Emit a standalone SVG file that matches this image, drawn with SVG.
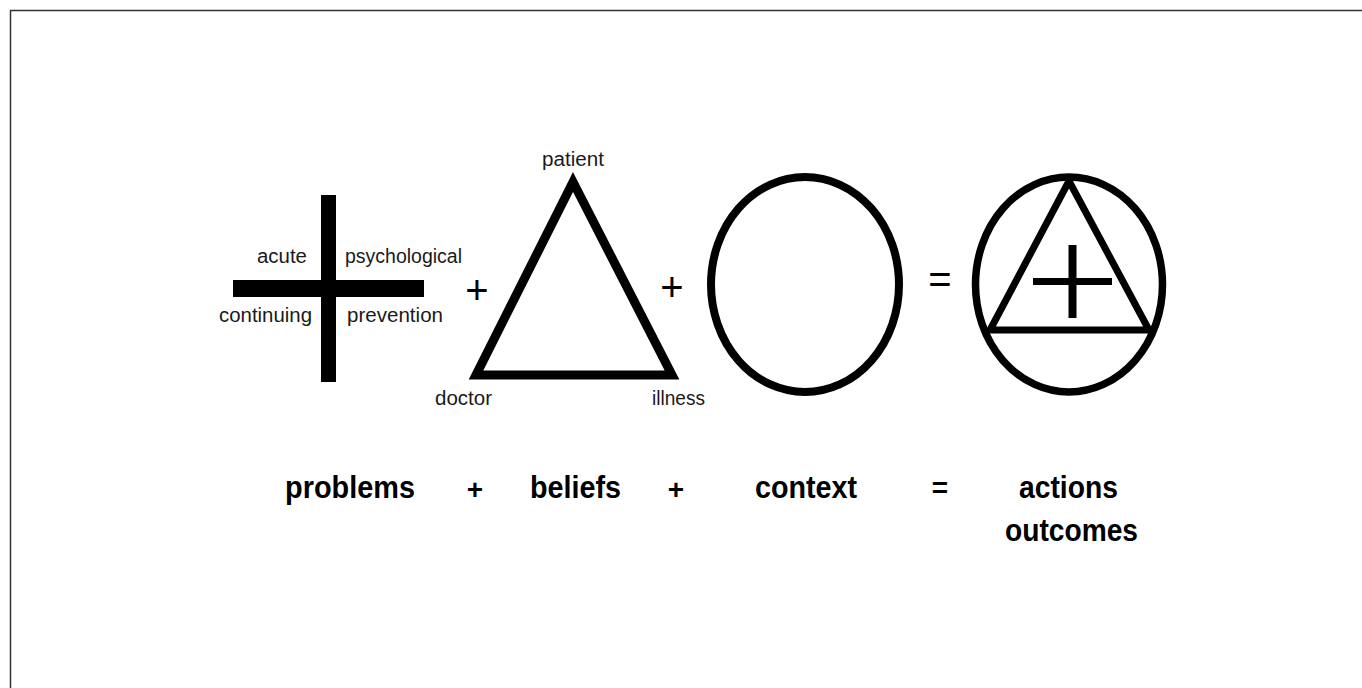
<svg xmlns="http://www.w3.org/2000/svg" width="1362" height="688" viewBox="0 0 1362 688">
<style>
.lbl{font-family:"Liberation Sans",Arial,sans-serif;font-size:20px;fill:#1a1a1a}
.big{font-family:"Liberation Sans",Arial,sans-serif;font-size:32px;font-weight:bold;fill:#000}
.op{font-family:"Liberation Sans",Arial,sans-serif;font-size:40px;fill:#000;text-anchor:middle}
.opb{font-family:"Liberation Sans",Arial,sans-serif;font-size:28px;font-weight:bold;fill:#000;text-anchor:middle}
.shape{fill:none;stroke:#000}
</style>
<rect width="1362" height="688" fill="#fff"/>
<path d="M10.5,688 V10.5 H1362" fill="none" stroke="#333" stroke-width="1.5"/>

<g id="problems-cross">
<rect x="321" y="195" width="15" height="187" fill="#000"/>
<rect x="233" y="280" width="191" height="17" fill="#000"/>
<text class="lbl" x="257" y="263" textLength="50" lengthAdjust="spacingAndGlyphs">acute</text>
<text class="lbl" x="345" y="263" textLength="117" lengthAdjust="spacingAndGlyphs">psychological</text>
<text class="lbl" x="219" y="322" textLength="93" lengthAdjust="spacingAndGlyphs">continuing</text>
<text class="lbl" x="347" y="322" textLength="96" lengthAdjust="spacingAndGlyphs">prevention</text>
</g>

<g id="plus1"><text class="op" x="477" y="304">+</text></g>

<g id="beliefs-triangle">
<polygon class="shape" points="573,182 476,375 672,375" stroke-width="9" stroke-linejoin="miter"/>
<text class="lbl" x="542" y="166" textLength="62" lengthAdjust="spacingAndGlyphs">patient</text>
<text class="lbl" x="435" y="405" textLength="57" lengthAdjust="spacingAndGlyphs">doctor</text>
<text class="lbl" x="652" y="405" textLength="53" lengthAdjust="spacingAndGlyphs">illness</text>
</g>

<g id="plus2"><text class="op" x="672" y="301">+</text></g>

<g id="context-circle">
<ellipse class="shape" cx="805" cy="284.5" rx="94" ry="107.5" stroke-width="8"/>
</g>

<g id="equals1"><text class="op" x="940" y="293">=</text></g>

<g id="combined">
<ellipse class="shape" cx="1069" cy="284.5" rx="93.5" ry="107.5" stroke-width="7.5"/>
<polygon class="shape" points="1069,181 990,330 1149,330" stroke-width="7" stroke-linejoin="miter"/>
<rect x="1033" y="278" width="79" height="7" fill="#000"/>
<rect x="1068.5" y="245" width="8" height="73" fill="#000"/>
</g>

<g id="bottom-labels">
<text class="big" x="285" y="498" textLength="130" lengthAdjust="spacingAndGlyphs">problems</text>
<text class="opb" x="475" y="499">+</text>
<text class="big" x="530" y="498" textLength="91" lengthAdjust="spacingAndGlyphs">beliefs</text>
<text class="opb" x="676" y="499">+</text>
<text class="big" x="755" y="498" textLength="102" lengthAdjust="spacingAndGlyphs">context</text>
<text class="opb" x="940" y="497">=</text>
<text class="big" x="1019" y="498" textLength="99" lengthAdjust="spacingAndGlyphs">actions</text>
<text class="big" x="1005" y="541" textLength="133" lengthAdjust="spacingAndGlyphs">outcomes</text>
</g>
</svg>
